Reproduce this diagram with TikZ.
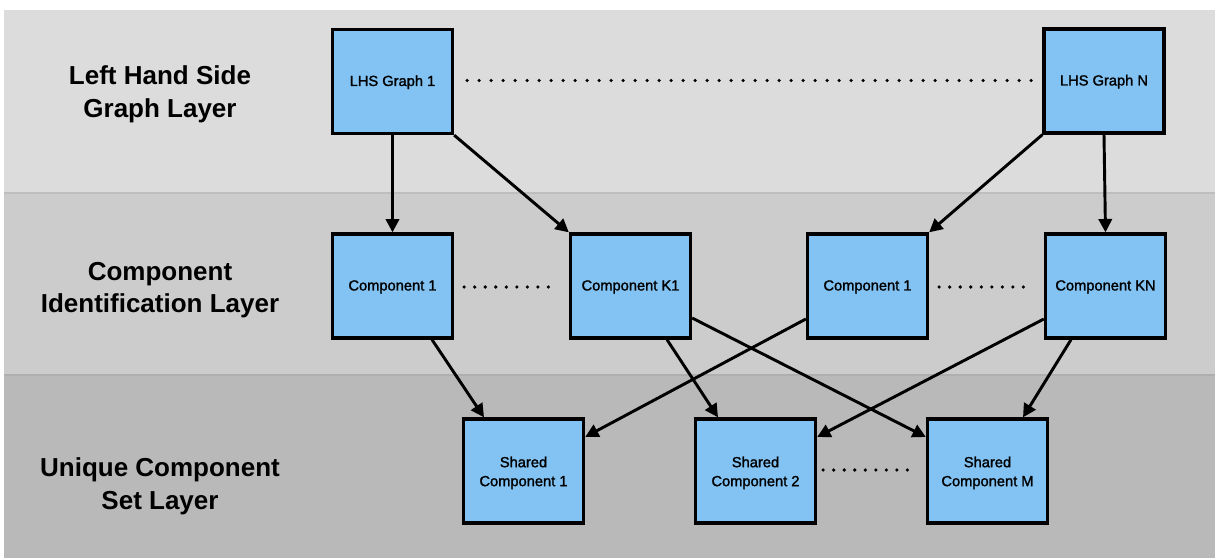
\documentclass[tikz,border=0pt]{standalone}
\usepackage{fontspec}
\setmainfont{Liberation Sans}
\newfontfamily\boxfont{Liberation Sans}[FakeBold=1.5]
\usetikzlibrary{arrows.meta,calc}
\definecolor{bandA}{RGB}{220,220,220}
\definecolor{bandB}{RGB}{204,204,204}
\definecolor{bandC}{RGB}{185,185,185}
\definecolor{bandline}{RGB}{190,190,190}
\definecolor{bandline2}{RGB}{175,175,175}
\definecolor{boxblue}{RGB}{130,195,243}
\begin{document}
\begin{tikzpicture}[x=0.75pt,y=-0.75pt,
  box/.style={draw=black, line width=2.5pt, fill=boxblue, minimum width=90pt,
    minimum height=78pt, inner sep=0pt, align=center,
    font=\boxfont\fontsize{11pt}{14.2pt}\selectfont},
  onebox/.style={box, text height=9pt},
  twobox/.style={box, text height=25pt},
  arr/.style={line width=2.2pt, -{Triangle[length=10pt,width=10pt]}},
  dotsA/.style={line width=2.7pt, line cap=round, dash pattern=on 0pt off 9pt},
  dotsB/.style={line width=2.7pt, line cap=round, dash pattern=on 0pt off 7.9pt},
  layerlabel/.style={font=\bfseries\fontsize{19.5pt}{24.5pt}\selectfont,
    align=center, inner sep=0pt}]
\useasboundingbox (0,0) rectangle (1215,558);
\fill[white] (0,0) rectangle (1215,558);
% bands
\fill[bandA] (4,10) rectangle (1215,193);
\fill[bandB] (4,193) rectangle (1215,375);
\fill[bandC] (4,375) rectangle (1215,558);
\draw[bandline, line width=1.5pt] (4,193) -- (1215,193);
\draw[bandline2, line width=1.5pt] (4,375) -- (1215,375);
% layer labels
\node[layerlabel] (lab1) at (160,94) {Left Hand Side\\Graph Layer};
\node[layerlabel] (lab2) at (160,290) {Component\\Identification Layer};
\node[layerlabel] (lab3) at (160,486) {Unique Component\\Set Layer};
% boxes
\node[onebox] (L1) at (392.5,81.5) {LHS Graph 1};
\node[onebox] (LN) at (1104,81) {LHS Graph N};
\node[onebox] (C1) at (392.5,286) {Component 1};
\node[onebox] (K1) at (630.5,286) {Component K1};
\node[onebox] (C1R) at (867.5,286) {Component 1};
\node[onebox] (KN) at (1105.5,286) {Component KN};
\node[twobox] (S1) at (523.5,471) {Shared\\Component 1};
\node[twobox] (S2) at (755.5,471) {Shared\\Component 2};
\node[twobox] (SM) at (987.5,471) {Shared\\Component M};
% dotted links
\draw[dotsA] ($(L1.east)+(13,-1)$) -- ($(LN.west)+(-9,-0.5)$);
\draw[dotsB] ($(C1.east)+(10,1)$) -- ($(K1.west)+(-11,1)$);
\draw[dotsB] ($(C1R.east)+(10,1)$) -- ($(KN.west)+(-10,1)$);
\draw[dotsB] ($(S2.east)+(6,-1)$) -- ($(SM.west)+(-10,-1)$);
% arrows
\draw[arr] (L1.south) -- (C1.north);
\draw[arr] (L1.south east) -- (K1.north west);
\draw[arr] (LN.south west) -- (C1R.north east);
\draw[arr] (LN.south) -- (KN.north);
\draw[arr] ($(C1.south)+(39.5,0)$) -- ($(S1.north)+(-39.5,0)$);
\draw[arr] ($(K1.south)+(36.5,0)$) -- ($(S2.north)+(-37.5,0)$);
\draw[arr] ($(K1.east)+(0,32)$) -- ($(SM.west)+(0,-34)$);
\draw[arr] ($(C1R.west)+(0,33)$) -- ($(S1.east)+(0,-34)$);
\draw[arr] ($(KN.west)+(0,33)$) -- ($(S2.east)+(0,-34)$);
\draw[arr] ($(KN.south)+(-34.5,0)$) -- ($(SM.north)+(35.5,0)$);
\end{tikzpicture}
\end{document}
